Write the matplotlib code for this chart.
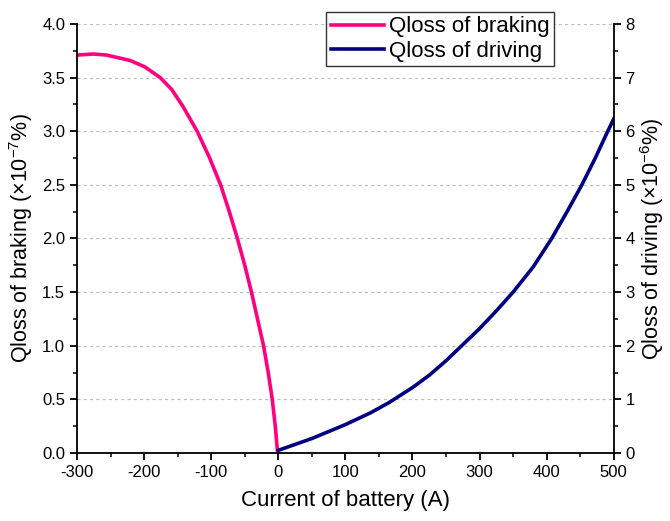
import numpy as np
import matplotlib
matplotlib.use("Agg")
import matplotlib.pyplot as plt
from matplotlib.ticker import MultipleLocator, FormatStrFormatter

plt.rcParams["font.family"] = "Liberation Sans"
plt.rcParams["mathtext.fontset"] = "custom"
plt.rcParams["mathtext.rm"] = "Liberation Sans"
plt.rcParams["mathtext.it"] = "Liberation Sans:italic"
plt.rcParams["axes.unicode_minus"] = False

# braking branch (negative current), left axis, x1e-7 %
braking_current = [-300, -276, -256, -221, -199, -176, -159, -142, -121, -103,
                   -86, -73, -61, -50, -40, -31, -22, -15, -9, -4.5, -1]
braking_qloss = [3.71, 3.72, 3.71, 3.66, 3.60, 3.50, 3.39, 3.23, 3.00, 2.76,
                 2.50, 2.25, 2.00, 1.75, 1.50, 1.25, 1.00, 0.75, 0.50, 0.25, 0.0]

# driving branch (positive current), right axis, x1e-6 %
driving_current = [0, 50, 100, 137.5, 165, 200, 225, 250, 272.5, 300,
                   325, 350, 380, 407.5, 430, 452.5, 472.5, 490, 500]
driving_qloss = [0.05, 0.27, 0.53, 0.75, 0.94, 1.22, 1.45, 1.72, 1.99, 2.32,
                 2.65, 3.00, 3.47, 4.00, 4.49, 5.00, 5.50, 5.97, 6.23]

pink = "#ff0080"
navy = "#000080"

fig = plt.figure(figsize=(6.7, 5.21), dpi=100)
ax = fig.add_axes([0.115, 0.1305, 0.801, 0.8235])
ax2 = ax.twinx()

l1, = ax.plot(braking_current, braking_qloss, color=pink, lw=2.6,
              solid_joinstyle="round", label="Qloss of braking")
l2, = ax2.plot(driving_current, driving_qloss, color=navy, lw=2.6,
               solid_joinstyle="round", label="Qloss of driving")

ax.set_xlim(-300, 500)
ax.set_ylim(0, 4.0)
ax2.set_ylim(0, 8)

ax.xaxis.set_major_locator(MultipleLocator(100))
ax.xaxis.set_minor_locator(MultipleLocator(50))
ax.yaxis.set_major_locator(MultipleLocator(0.5))
ax.yaxis.set_minor_locator(MultipleLocator(0.25))
ax.yaxis.set_major_formatter(FormatStrFormatter("%.1f"))
ax2.yaxis.set_major_locator(MultipleLocator(1))
ax2.yaxis.set_minor_locator(MultipleLocator(0.5))

ax.grid(axis="y", color="#c0c0c0", linestyle=(0, (2.5, 2.5)), linewidth=0.9)

for a in (ax, ax2):
    a.spines["top"].set_visible(False)
    for s in a.spines.values():
        s.set_linewidth(1.3)
    a.tick_params(which="major", direction="out", length=5, width=1.3, labelsize=12)
    a.tick_params(which="minor", direction="out", length=3, width=1.1)
ax.spines["right"].set_visible(False)
ax2.spines["left"].set_visible(False)
ax2.spines["bottom"].set_visible(False)

ax.set_xlabel("Current of battery (A)", fontsize=16, labelpad=7)
ax.set_ylabel("Qloss of braking (×10$^{-7}$%)", fontsize=15.5, labelpad=5)
ax2.set_ylabel("Qloss of driving (×10$^{-6}$%)", fontsize=15.5, labelpad=2)

leg = ax2.legend(handles=[l1, l2], loc="upper left", bbox_to_anchor=(0.464, 1.028),
                 borderaxespad=0, fontsize=16, frameon=True, fancybox=False,
                 handlelength=2.4, handletextpad=0.25, borderpad=0.2,
                 labelspacing=0.15)
leg.get_frame().set_edgecolor("black")
leg.get_frame().set_linewidth(1.0)

fig.savefig("out.png", dpi=100)
